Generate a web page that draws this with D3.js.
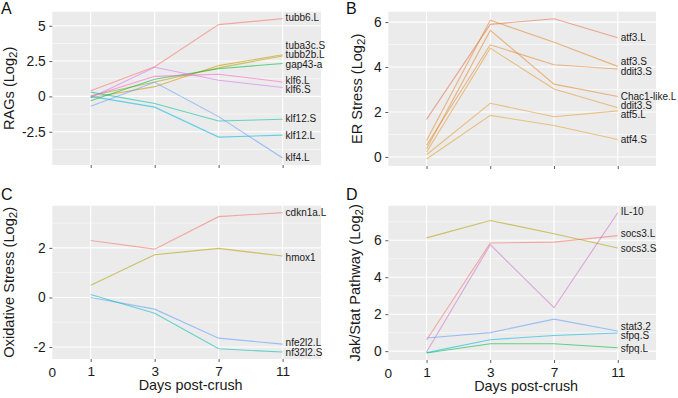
<!DOCTYPE html>
<html>
<head>
<meta charset="utf-8">
<script src="https://cdn.jsdelivr.net/npm/d3@7"></script>
<style>
  html, body { margin: 0; padding: 0; background: #fff; }
  svg { display: block; }
  text { font-family: "Liberation Sans", Arial, Helvetica, sans-serif; }
</style>
</head>
<body>
<svg id="chart" width="678" height="398"></svg>
<script>
// ---------------- DATA ----------------
const days = ["1", "3", "7", "11"];
const xExtraLabel = "0";
const xTitle = "Days post-crush";

// Panel A: RAGs
const ragGenes = ["tubb6.L", "tuba3c.S", "tubb2b.L", "gap43-a", "klf6.L", "klf6.S", "klf12.S", "klf12.L", "klf4.L"];
const ragValues = [
  [0.40, 2.10, 5.08, 5.50],
  [-0.10, 0.69, 2.18, 2.95],
  [0.05, 1.02, 2.02, 2.86],
  [-0.30, 1.21, 1.96, 2.33],
  [0.00, 1.42, 1.57, 1.02],
  [-0.10, 2.06, 1.14, 0.63],
  [0.30, -0.50, -1.74, -1.62],
  [0.00, -0.76, -2.88, -2.74],
  [-0.70, 1.00, -1.43, -4.36]
];
const ragLabelY = [5.56, 3.58, 2.93, 2.26, 1.14, 0.48, -1.58, -2.77, -4.34];
const ragTicks = [-2.5, 0, 2.5, 5];
const ragTickLabels = ["-2.5", "0", "2.5", "5"];

// Panel B: ER stress
const erGenes = ["atf3.L", "atf3.S", "ddit3.S", "Chac1-like.L", "ddit3.S", "atf5.L", "atf4.S"];
const erValues = [
  [1.67, 5.90, 6.15, 5.30],
  [0.73, 6.08, 5.10, 4.03],
  [0.52, 4.99, 4.10, 3.91],
  [0.37, 5.63, 3.24, 2.69],
  [0.22, 4.84, 3.02, 2.19],
  [0.10, 2.39, 1.79, 2.05],
  [-0.09, 1.85, 1.40, 0.78]
];
const erLabelY = [5.30, 4.23, 3.80, 2.70, 2.28, 1.89, 0.78];
const erTicks = [0, 2, 4, 6];
const erTickLabels = ["0", "2", "4", "6"];

// Panel C: Oxidative stress
const oxGenes = ["cdkn1a.L", "hmox1", "nfe2l2.L", "nf32l2.S"];
const oxValues = [
  [2.30, 1.95, 3.26, 3.42],
  [0.49, 1.72, 1.98, 1.67],
  [0.00, -0.47, -1.64, -1.88],
  [0.12, -0.64, -2.07, -2.20]
];
const oxLabelY = [3.43, 1.63, -1.80, -2.21];
const oxTicks = [-2, 0, 2];
const oxTickLabels = ["-2", "0", "2"];

// Panel D: Jak/Stat pathway
const jsGenes = ["IL-10", "socs3.L", "socs3.S", "stat3.2", "sfpq.S", "sfpq.L"];
const jsValues = [
  [-0.05, 5.76, 2.35, 7.49],
  [0.60, 5.85, 5.90, 6.25],
  [6.13, 7.07, 6.35, 5.58],
  [0.71, 1.00, 1.73, 1.09],
  [-0.08, 0.62, 0.85, 0.98],
  [-0.10, 0.40, 0.40, 0.18]
];
const jsLabelY = [7.53, 6.35, 5.58, 1.36, 0.82, 0.13];
const jsTicks = [0, 2, 4, 6];
const jsTickLabels = ["0", "2", "4", "6"];

// ---------------- STYLES ----------------
const ragColors = ["#F8766D", "#D39200", "#A3A500", "#00BA38", "#FF61C3", "#DB72FB", "#00C19F", "#00B9E3", "#619CFF"];
const erColors = ["#E8704A", "#E58A2E", "#E58A2E", "#E58A2E", "#E59A30", "#E5A030", "#E5A030"];
const oxColors = ["#F8766D", "#B79F00", "#619CFF", "#00BFB0"];
const jsColors = ["#CF74C9", "#F8766D", "#B79F00", "#619CFF", "#00B9E3", "#00BA38"];

const svg = d3.select("#chart");
svg.append("rect").attr("width", 678).attr("height", 398).attr("fill", "#fff");

function drawPanel(opts) {
  const { left, right, top, bottom, genes, values, labelY, colors, ticks, tickLabels,
          titleMain, titleX, letter, letterX, letterY, showX } = opts;
  const g = svg.append("g");

  const x = d3.scalePoint().domain(days).range([left, right]).padding(0.6);
  const all = values.flat();
  const ext = d3.extent(all);
  const pad = (ext[1] - ext[0]) * 0.05;
  const y = d3.scaleLinear().domain([ext[0] - pad, ext[1] + pad]).range([bottom, top]);

  // background
  g.append("rect").attr("x", left).attr("y", top)
    .attr("width", right - left).attr("height", bottom - top).attr("fill", "#EBEBEB");

  // minor grid
  const step = ticks[1] - ticks[0];
  const minor = [];
  for (let v = ticks[0] - step / 2; v <= y.domain()[1]; v += step) {
    if (v >= y.domain()[0]) minor.push(v);
  }
  g.selectAll(".minor").data(minor).enter().append("line")
    .attr("x1", left).attr("x2", right)
    .attr("y1", d => y(d)).attr("y2", d => y(d))
    .attr("stroke", "#fff").attr("stroke-width", 0.55);
  // major grid
  g.selectAll(".major").data(ticks).enter().append("line")
    .attr("x1", left).attr("x2", right)
    .attr("y1", d => y(d)).attr("y2", d => y(d))
    .attr("stroke", "#fff").attr("stroke-width", 1.1);
  g.selectAll(".vgrid").data(days).enter().append("line")
    .attr("x1", d => x(d)).attr("x2", d => x(d))
    .attr("y1", top).attr("y2", bottom)
    .attr("stroke", "#fff").attr("stroke-width", 1.1);

  // y axis
  const yAxis = d3.axisLeft(y).tickValues(ticks).tickSize(3).tickPadding(3.5)
    .tickFormat((d, i) => tickLabels[i]);
  const ya = g.append("g").attr("transform", `translate(${left},0)`).call(yAxis);
  ya.select(".domain").remove();
  ya.selectAll(".tick line").attr("stroke", "#333").attr("stroke-width", 0.8);
  ya.selectAll(".tick text").attr("fill", "#1a1a1a").style("font-size", "13.8px")
    .style("font-family", '"Liberation Sans", Arial, sans-serif');

  // x axis
  const xAxis = d3.axisBottom(x).tickSize(3).tickPadding(4);
  if (!showX) xAxis.tickFormat("");
  const xa = g.append("g").attr("transform", `translate(0,${bottom})`).call(xAxis);
  xa.select(".domain").remove();
  xa.selectAll(".tick line").attr("stroke", "#333").attr("stroke-width", 0.8);
  xa.selectAll(".tick text").attr("fill", "#1a1a1a").style("font-size", "13.6px")
    .style("font-family", '"Liberation Sans", Arial, sans-serif');
  if (showX) {
    g.append("text").attr("x", left).attr("y", bottom + 17.8)
      .attr("text-anchor", "middle").attr("fill", "#1a1a1a")
      .style("font-size", "13.6px").text(xExtraLabel);
    g.append("text").attr("x", (left + right) / 2 + 4).attr("y", bottom + 30.5)
      .attr("text-anchor", "middle").attr("fill", "#1a1a1a")
      .style("font-size", "14.4px").text(xTitle);
  }

  // lines
  const line = d3.line().x((d, i) => x(days[i])).y(d => y(d));
  g.selectAll(".series").data(values).enter().append("path")
    .attr("d", d => line(d))
    .attr("fill", "none")
    .attr("stroke", (d, i) => colors[i])
    .attr("stroke-opacity", 0.58)
    .attr("stroke-width", 1.1);

  // labels
  g.selectAll(".lab").data(genes).enter().append("text")
    .attr("x", x(days[days.length - 1]) + 3)
    .attr("y", (d, i) => y(labelY[i]))
    .attr("dy", "0.35em")
    .attr("fill", "#1a1a1a")
    .style("font-size", "10px")
    .text(d => d);

  // y title
  const t = g.append("text")
    .attr("transform", `translate(${titleX},${(top + bottom) / 2}) rotate(-90)`)
    .attr("text-anchor", "middle").attr("fill", "#1a1a1a")
    .style("font-size", "14.6px");
  t.append("tspan").text(titleMain + " (Log");
  t.append("tspan").attr("dy", 3).style("font-size", "11.5px").text("2");
  t.append("tspan").attr("dy", -3).text(")");

  // panel letter
  svg.append("text").attr("x", letterX).attr("y", letterY)
    .attr("fill", "#111").style("font-size", "16px").text(letter);
}

drawPanel({ left: 52.3, right: 321, top: 11.7, bottom: 165, genes: ragGenes, values: ragValues,
  labelY: ragLabelY, colors: ragColors, ticks: ragTicks, tickLabels: ragTickLabels,
  titleMain: "RAGs", titleX: 14, letter: "A", letterX: 1, letterY: 13.5, showX: false });
drawPanel({ left: 388.3, right: 656, top: 11.7, bottom: 166, genes: erGenes, values: erValues,
  labelY: erLabelY, colors: erColors, ticks: erTicks, tickLabels: erTickLabels,
  titleMain: "ER Stress", titleX: 362, letter: "B", letterX: 346, letterY: 13.5, showX: false });
drawPanel({ left: 52.3, right: 321, top: 205.7, bottom: 359, genes: oxGenes, values: oxValues,
  labelY: oxLabelY, colors: oxColors, ticks: oxTicks, tickLabels: oxTickLabels,
  titleMain: "Oxidative Stress", titleX: 14, letter: "C", letterX: 1, letterY: 200, showX: true });
drawPanel({ left: 388.3, right: 656, top: 205.7, bottom: 360, genes: jsGenes, values: jsValues,
  labelY: jsLabelY, colors: jsColors, ticks: jsTicks, tickLabels: jsTickLabels,
  titleMain: "Jak/Stat Pathway", titleX: 360, letter: "D", letterX: 346, letterY: 200, showX: true });
</script>
</body>
</html>
